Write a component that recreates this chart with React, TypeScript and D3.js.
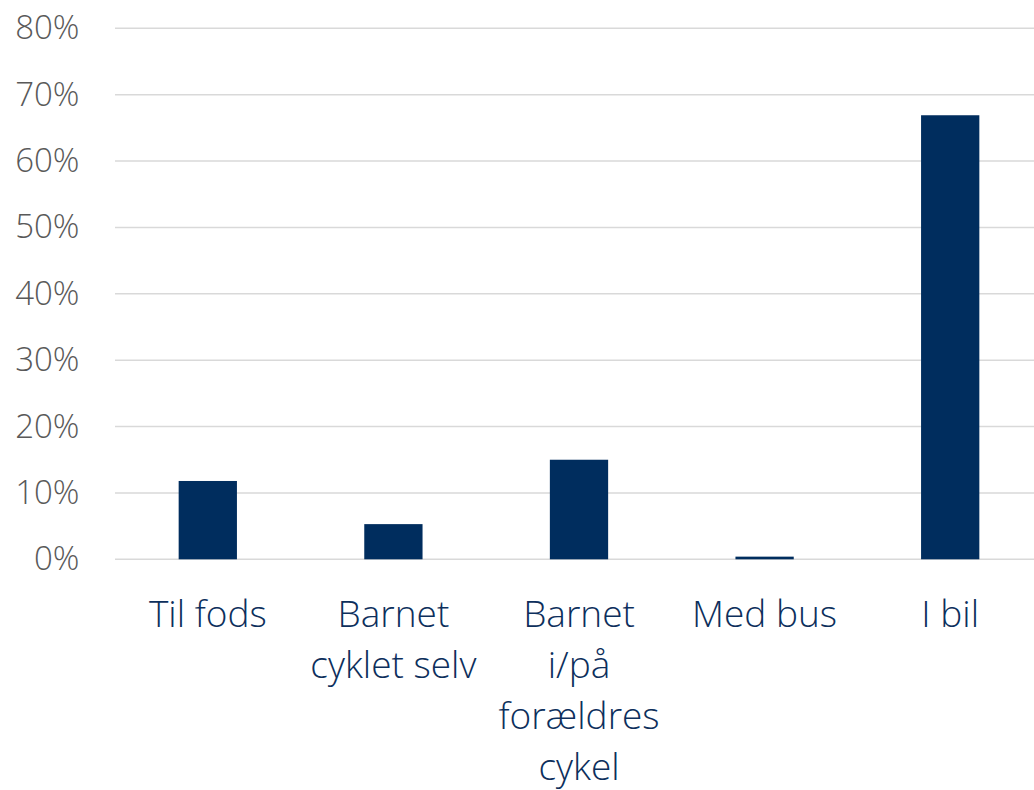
import React, { useRef, useEffect } from "react";
import * as d3 from "d3";

const categories = ["Til fods", "Barnet cyklet selv", "Barnet i/på forældres cykel", "Med bus", "I bil"];
const categoryLines = [["Til fods"], ["Barnet", "cyklet selv"], ["Barnet", "i/på", "forældres", "cykel"], ["Med bus"], ["I bil"]];
const values = [0.118, 0.053, 0.15, 0.004, 0.669];
const yTicks = [0, 0.1, 0.2, 0.3, 0.4, 0.5, 0.6, 0.7, 0.8];

const App = () => {
  const chartRef = useRef<SVGSVGElement>(null);

  useEffect(() => {
    const width = 1034;
    const height = 790;
    const font = "'Open Sans', sans-serif";

    const svg = d3.select(chartRef.current);
    svg.selectAll("*").remove();
    svg.attr("width", width).attr("height", height);

    const x = d3
      .scaleBand()
      .domain(categories)
      .range([115, 1043])
      .paddingInner(0.686)
      .paddingOuter(0.343);

    const y = d3.scaleLinear().domain([0, 0.8]).range([559.3, 28.3]);

    // gridlines
    svg
      .selectAll(".grid")
      .data(yTicks)
      .enter()
      .append("line")
      .attr("x1", 115)
      .attr("x2", width)
      .attr("y1", (d) => y(d))
      .attr("y2", (d) => y(d))
      .attr("stroke", "#d9d9d9")
      .attr("stroke-width", 1.5);

    // y labels
    svg
      .selectAll(".ylab")
      .data(yTicks)
      .enter()
      .append("text")
      .attr("x", 79.5)
      .attr("y", (d) => y(d) + 11)
      .attr("text-anchor", "end")
      .attr("font-family", font)
      .attr("font-weight", 300)
      .attr("font-size", 33)
      .attr("fill", "#595959")
      .text((d) => d3.format(".0%")(d));

    // bars
    svg
      .selectAll(".bar")
      .data(values)
      .enter()
      .append("rect")
      .attr("x", (d, i) => x(categories[i]))
      .attr("y", (d) => y(d))
      .attr("width", x.bandwidth())
      .attr("height", (d) => y(0) - y(d))
      .attr("fill", "#002d5e");

    // category labels
    const labels = svg
      .selectAll(".xlab")
      .data(categories)
      .enter()
      .append("text")
      .attr("text-anchor", "middle")
      .attr("font-family", font)
      .attr("font-weight", 300)
      .attr("font-size", 37)
      .attr("fill", "#0d2f5c");

    labels.each(function (d, i) {
      const cx = x(d) + x.bandwidth() / 2;
      categoryLines[i].forEach((line, j) => {
        d3.select(this)
          .append("tspan")
          .attr("x", cx)
          .attr("y", 626.7 + j * 51)
          .text(line);
      });
    });
  }, []);

  return <svg ref={chartRef} style={{ position: "absolute", left: 0, top: 0 }}></svg>;
};

export default App;
